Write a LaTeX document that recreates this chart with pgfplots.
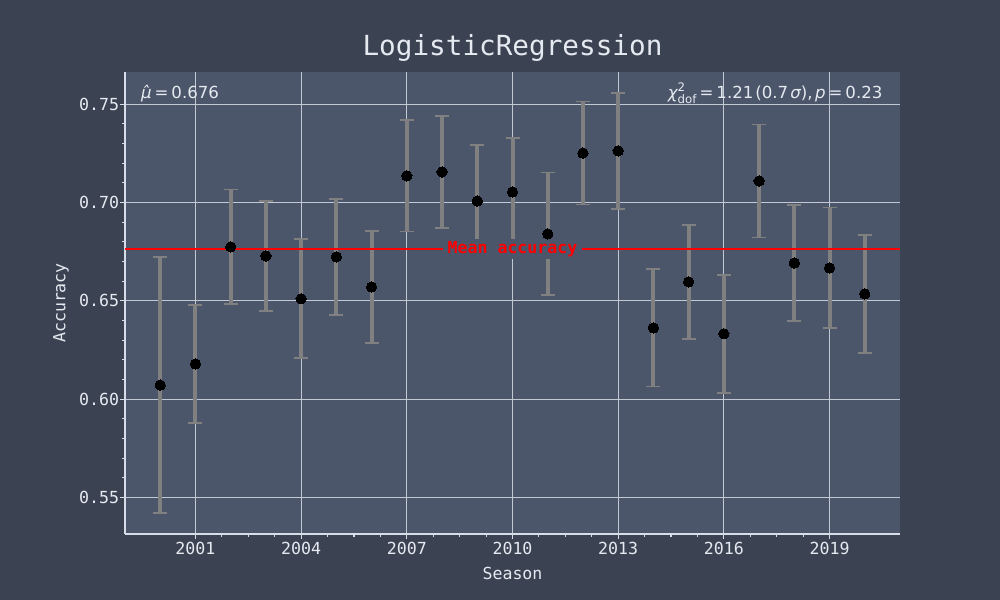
\documentclass[border=0pt]{standalone}
\usepackage{fontspec}
\setmainfont{DejaVu Sans Mono}[BoldFont={DejaVu Sans Mono Bold}]
\newfontfamily\dvs{DejaVu Sans}
\usepackage{pgfplots}
\usepackage{pgfplotstable}
\pgfplotsset{compat=1.18}
\definecolor{figbg}{HTML}{3B4252}
\definecolor{axbg}{HTML}{4C566A}
\definecolor{textc}{HTML}{E5E9F0}
\definecolor{spinec}{HTML}{D8DEE9}
\definecolor{gridc}{HTML}{C3C9D4}
\definecolor{errc}{RGB}{128,128,128}
\definecolor{meanred}{RGB}{255,0,0}

\pgfplotstableread{
year acc err
2000 0.6072 0.0651
2001 0.6180 0.0300
2002 0.6775 0.0292
2003 0.6729 0.0280
2004 0.6511 0.0302
2005 0.6724 0.0295
2006 0.6571 0.0285
2007 0.7136 0.0283
2008 0.7156 0.0285
2009 0.7008 0.0285
2010 0.7054 0.0275
2011 0.6841 0.0312
2012 0.7252 0.0262
2013 0.7263 0.0295
2014 0.6363 0.0298
2015 0.6597 0.0290
2016 0.6333 0.0300
2017 0.7110 0.0287
2018 0.6693 0.0293
2019 0.6668 0.0307
2020 0.6536 0.0300
}\data

\begin{document}
\begin{tikzpicture}
\fill[figbg] (0,0) rectangle (10in,6in);
\begin{axis}[
  at={(1.25in,0.66in)}, anchor=south west,
  scale only axis, width=7.75in, height=4.62in,
  xmin=1999, xmax=2021, ymin=0.5315, ymax=0.7664,
  axis background/.style={fill=axbg},
  axis x line*=bottom, axis y line*=left,
  axis line style={spinec, line width=0.011in},
  tick align=outside,
  major tick length=0.049in, minor tick length=0.028in,
  tick style={spinec, line width=0.011in},
  xtick={2001,2004,2007,2010,2013,2016,2019}, minor x tick num=3,
  ytick={0.55,0.60,0.65,0.70,0.75}, minor y tick num=4,
  grid=major,
  major grid style={draw=gridc, line width=0.009in},
  ticklabel style={font=\fontsize{12}{14}\selectfont, text=textc},
  /pgf/number format/assume math mode=true,
  x tick label style={yshift=0.02in, /pgf/number format/1000 sep={}},
  y tick label style={xshift=0.04in, /pgf/number format/.cd, fixed, fixed zerofill, precision=2},
  xlabel={Season}, ylabel={Accuracy},
  label style={font=\fontsize{12}{14}\selectfont, text=textc},
  xlabel style={at={(axis description cs:0.5,-0.0844)}, anchor=center},
  ylabel style={at={(axis description cs:-0.0826,0.5)}, anchor=center},
  title={LogisticRegression},
  title style={at={(axis description cs:0.5,1.0188)}, anchor=base, font=\fontsize{20}{24}\selectfont, text=textc},
]
\addplot[only marks, mark=none, forget plot,
  error bars/.cd, y dir=both, y explicit,
  error bar style={draw=errc, line width=0.04in},
  error mark options={rotate=90, mark size=0.07in, line width=0.018in, draw=errc}]
  table[x=year, y=acc, y error=err] {\data};
\addplot[only marks, mark=*, mark size=0.052in, mark options={fill=black, draw=black, line width=0pt}]
  table[x=year, y=acc] {\data};
\addplot[meanred, line width=0.02in] coordinates {(1999,0.6765) (2021,0.6765)};
\node[fill=axbg, text=meanred, font=\bfseries\fontsize{12}{14}\selectfont, inner xsep=0.047in, inner ysep=0.02in] at (axis cs:2010,0.6765) {Mean accuracy};
\node[anchor=base west, text=textc, font=\dvs\fontsize{12}{14}\selectfont, inner sep=0pt] at (axis description cs:0.0203,0.9416) {{\itshape μ̂}\hspace{0.18em}=\hspace{0.18em}0.676};
\node[anchor=base east, text=textc, font=\dvs\fontsize{12}{14}\selectfont, inner sep=0pt] at (axis description cs:0.9777,0.9416) {{\itshape χ}\rlap{\raisebox{0.42em}{\fontsize{8.5}{10}\selectfont 2}}\raisebox{-0.28em}{\fontsize{8.5}{10}\selectfont dof}\hspace{0.18em}=\hspace{0.18em}1.21\hspace{0.12em}(0.7\hspace{0.12em}{\itshape σ}),\hspace{0.15em}{\itshape p}\hspace{0.18em}=\hspace{0.18em}0.23};
\end{axis}
\pgfresetboundingbox
\useasboundingbox (0,0) rectangle (10in,6in);
\end{tikzpicture}
\end{document}
